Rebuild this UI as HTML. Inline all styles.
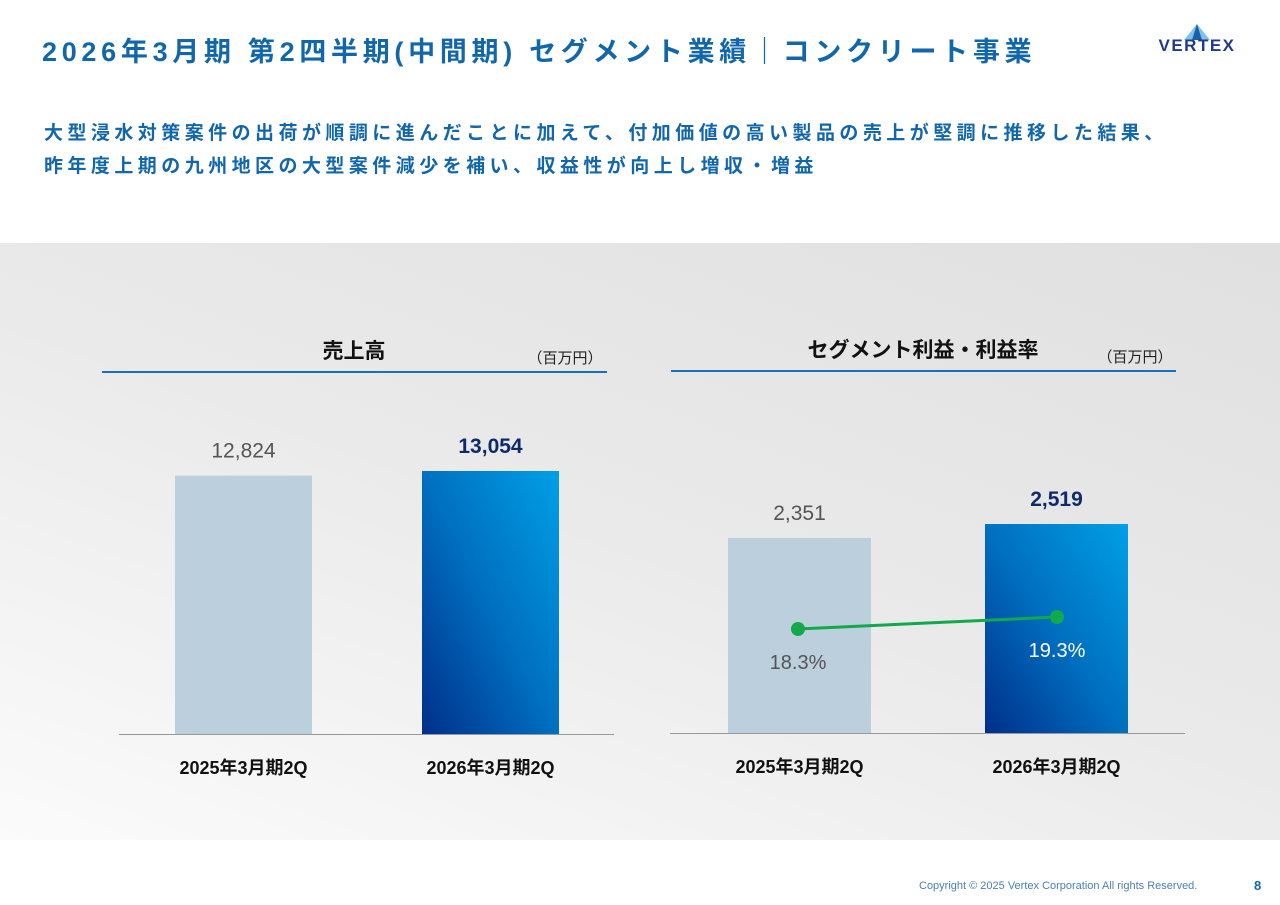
<!DOCTYPE html>
<html><head><meta charset="utf-8">
<style>
body{margin:0;width:1280px;height:905px;background:#fff;position:relative;overflow:hidden;font-family:"Liberation Sans","Noto Sans CJK JP",sans-serif;}
.abs{position:absolute;white-space:nowrap;}
</style></head><body>
<div class="abs" style="left:42px;top:30px;font-size:27px;font-weight:bold;color:#1267ab;letter-spacing:4.7px;">2026年3月期 第2四半期(中間期) セグメント業績｜コンクリート事業</div>
<div class="abs" style="left:1140px;top:20px;width:116px;height:38px;">
<svg width="116" height="38"><polygon points="57,4 44,20 70,20" fill="#7cc3ec"/><polygon points="57,4 52,20 62,20" fill="#1c5fa8"/><text x="57" y="31" text-anchor="middle" font-family="Liberation Sans" font-size="17" fill="#1f3a8a" letter-spacing="1.5" font-weight="bold">VERTEX</text></svg></div>
<div class="abs" style="left:44px;top:117px;font-size:19px;font-weight:bold;color:#1267ab;line-height:33px;letter-spacing:4.45px;">大型浸水対策案件の出荷が順調に進んだことに加えて、付加価値の高い製品の売上が堅調に推移した結果、<br>昨年度上期の九州地区の大型案件減少を補い、収益性が向上し増収・増益</div>
<div class="abs" style="left:0;top:243px;width:1280px;height:597px;background:linear-gradient(200deg,#e0e0e0 0%,#eaeaea 50%,#fbfbfb 100%);"></div>
<svg class="abs" style="left:0;top:0" width="1280" height="905" id="svg"></svg>
<div class="abs" style="left:919px;top:880px;font-size:11px;color:#4a7fb5;">Copyright © 2025 Vertex Corporation All rights Reserved.</div>
<div class="abs" style="left:1254px;top:878px;font-size:13px;font-weight:bold;color:#1267ab;">8</div>
<script>
const categories=["2025年3月期2Q","2026年3月期2Q"];
const salesValues=[12824,13054];
const profitValues=[2351,2519];
const marginValues=[18.3,19.3];
const NS="http://www.w3.org/2000/svg";
const svg=document.getElementById('svg');
function mk(tag,attrs,parent){const e=document.createElementNS(NS,tag);for(const k in attrs)e.setAttribute(k,attrs[k]);(parent||svg).appendChild(e);return e;}
const defs=mk('defs',{});
const g=mk('linearGradient',{id:'bg',x1:'0',y1:'1',x2:'1',y2:'0'},defs);
mk('stop',{offset:'0','stop-color':'#002f8a'},g);mk('stop',{offset:'0.5','stop-color':'#0070c0'},g);mk('stop',{offset:'1','stop-color':'#00a0e6'},g);
function txt(x,y,s,size,color,weight,name){const t=mk('text',{x:x,y:y,'text-anchor':'middle','font-size':size,fill:color,'font-weight':weight||'normal','font-family':'Liberation Sans, Noto Sans CJK JP, sans-serif'});t.textContent=s;return t;}
function chart(o){
  const base=o.base, yS=v=>base-v/o.dmax*300;
  const h=mk('line',{x1:o.lx1,x2:o.lx2,y1:o.hy,y2:o.hy,stroke:'#1a6fb5','stroke-width':2});
  
  txt(o.tx,o.hy-14,o.title,21,'#111','bold',o.key+'-title');
  txt(o.ux,o.hy-9,'（百万円）',15,'#222','normal',o.key+'-unit');
  o.vals.forEach((v,i)=>{
    const x=o.bx[i],y=yS(v);
    const r=mk('rect',{x:x,y:y,width:o.bw,height:base-y,fill:i==0?'#bccfdd':'url(#bg)'});
    
    const lbl=v.toLocaleString('en-US');
    if(i==0)txt(x+o.bw/2,y-18,lbl,21,'#555','normal',o.key+'-value-'+i);
    else txt(x+o.bw/2,y-18,lbl,21,'#0f2a6b','bold',o.key+'-value-'+i);
    txt(x+o.bw/2,base+40,categories[i],18,'#111','bold',o.key+'-category-'+i);
  });
  const ax=mk('line',{x1:o.ax1,x2:o.ax2,y1:base+0.5,y2:base+0.5,stroke:'#999','stroke-width':1});
  
  return yS;
}
chart({key:'sales',title:'売上高',vals:salesValues,base:734,dmax:14890,bx:[175,422],bw:137,lx1:102,lx2:607,hy:372,tx:354,ux:565,ax1:119,ax2:614});
chart({key:'profit',title:'セグメント利益・利益率',vals:profitValues,base:733,dmax:3616,bx:[728,985],bw:143,lx1:671,lx2:1176,hy:371,tx:923,ux:1135,ax1:670,ax2:1185});
const mY=r=>733-(r-9.633)*12;
const mx=[798,1057];
const ln=mk('polyline',{points:marginValues.map((r,i)=>mx[i]+','+mY(r)).join(' '),fill:'none',stroke:'#12a84c','stroke-width':3});

marginValues.forEach((r,i)=>{
  const c=mk('circle',{cx:mx[i],cy:mY(r),r:7,fill:'#12a84c'});
  
  txt(mx[i],mY(r)+40,r.toFixed(1)+'%',20,i==0?'#555':'#fff','normal','margin-label-'+i);
});
</script>
</body></html>
